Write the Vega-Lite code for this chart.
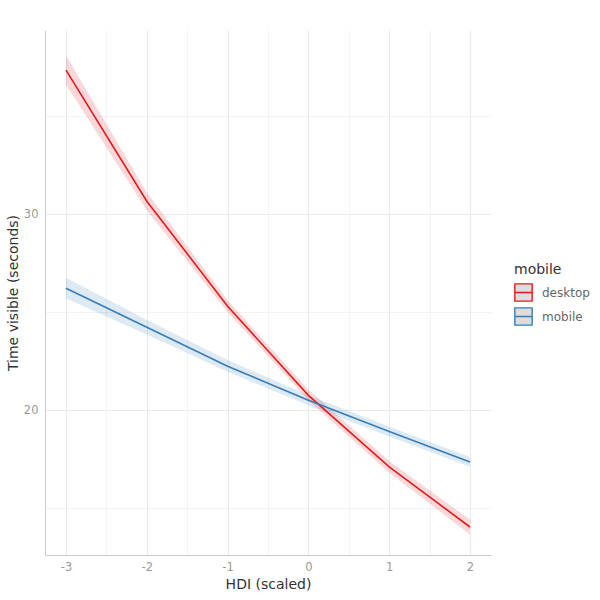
{
  "$schema": "https://vega.github.io/schema/vega-lite/v6.json",
  "autosize": {"type": "none"},
  "width": 446,
  "height": 525,
  "padding": {"left": 45, "top": 30, "right": 109, "bottom": 45},
  "background": "white",
  "config": {
    "font": "DejaVu Sans",
    "view": {"stroke": null},
    "axis": {
      "domainColor": "#cccccc",
      "domainWidth": 1,
      "ticks": false,
      "labelColor": "#999999",
      "labelFontSize": 11.5,
      "titleColor": "#333333",
      "titleFontSize": 14,
      "titleFontWeight": "normal",
      "gridColor": "#ebebeb"
    }
  },
  "data": {
    "values": [
      {"hdi": -3, "mobile": "desktop", "time": 37.35, "lo": 36.6, "hi": 38.1},
      {"hdi": -2, "mobile": "desktop", "time": 30.66, "lo": 30.2, "hi": 31.1},
      {"hdi": -1, "mobile": "desktop", "time": 25.3, "lo": 25.0, "hi": 25.6},
      {"hdi": 0, "mobile": "desktop", "time": 20.75, "lo": 20.5, "hi": 21.05},
      {"hdi": 1, "mobile": "desktop", "time": 17.1, "lo": 16.8, "hi": 17.4},
      {"hdi": 2, "mobile": "desktop", "time": 14.03, "lo": 13.65, "hi": 14.4},
      {"hdi": -3, "mobile": "mobile", "time": 26.22, "lo": 25.7, "hi": 26.75},
      {"hdi": -2, "mobile": "mobile", "time": 24.23, "lo": 23.85, "hi": 24.6},
      {"hdi": -1, "mobile": "mobile", "time": 22.24, "lo": 21.95, "hi": 22.55},
      {"hdi": 0, "mobile": "mobile", "time": 20.5, "lo": 20.25, "hi": 20.75},
      {"hdi": 1, "mobile": "mobile", "time": 18.9, "lo": 18.65, "hi": 19.15},
      {"hdi": 2, "mobile": "mobile", "time": 17.35, "lo": 17.1, "hi": 17.6}
    ]
  },
  "encoding": {
    "x": {
      "field": "hdi", "type": "quantitative",
      "scale": {"domain": [-3.26, 2.26], "nice": false, "zero": false},
      "axis": {
        "title": "HDI (scaled)",
        "values": [-3, -2.5, -2, -1.5, -1, -0.5, 0, 0.5, 1, 1.5, 2],
        "labelExpr": "datum.value % 1 == 0 ? '' + datum.value : ''",
        "gridWidth": {"condition": {"test": "datum.value % 1 == 0", "value": 1.1}, "value": 0.6},
        "labelPadding": 6,
        "titlePadding": 5
      }
    }
  },
  "layer": [
    {
      "transform": [{"filter": "datum.mobile == 'desktop'"}],
      "mark": {"type": "area", "opacity": 0.17, "fill": "#e41a1c"},
      "encoding": {
        "y": {
          "field": "lo", "type": "quantitative",
          "scale": {"domain": [12.6, 39.4], "nice": false, "zero": false},
          "axis": {
            "title": "Time visible (seconds)",
            "values": [15, 20, 25, 30, 35],
            "labelExpr": "datum.value % 10 == 0 ? datum.label : ''",
            "gridWidth": {"condition": {"test": "datum.value % 10 == 0", "value": 1.1}, "value": 0.6},
            "labelPadding": 7,
            "titlePadding": 3
          }
        },
        "y2": {"field": "hi"}
      }
    },
    {
      "transform": [{"filter": "datum.mobile == 'mobile'"}],
      "mark": {"type": "area", "opacity": 0.17, "fill": "#377eb8"},
      "encoding": {
        "y": {"field": "lo", "type": "quantitative"},
        "y2": {"field": "hi"}
      }
    },
    {
      "mark": {"type": "line", "strokeWidth": 1.6},
      "encoding": {
        "y": {"field": "time", "type": "quantitative"},
        "stroke": {
          "field": "mobile", "type": "nominal",
          "scale": {"domain": ["desktop", "mobile"], "range": ["#e41a1c", "#377eb8"]},
          "legend": {
            "title": "mobile",
            "orient": "none",
            "legendX": 469,
            "legendY": 233,
            "titleFontSize": 14,
            "titleFontWeight": "normal",
            "titleColor": "#333333",
            "titlePadding": 6,
            "labelFontSize": 12,
            "labelColor": "#666666",
            "labelOffset": 9,
            "rowPadding": 1,
            "symbolType": "M-1,-1H1V1H-1Z M-1,0H1",
            "symbolSize": 300,
            "symbolStrokeWidth": 1.4,
            "symbolFillColor": "#dddddd",
            "encode": {
              "symbols": {"update": {"fill": {"value": "#dddddd"}, "fillOpacity": {"value": 1}, "opacity": {"value": 1}}}
            }
          }
        }
      }
    }
  ]
}
